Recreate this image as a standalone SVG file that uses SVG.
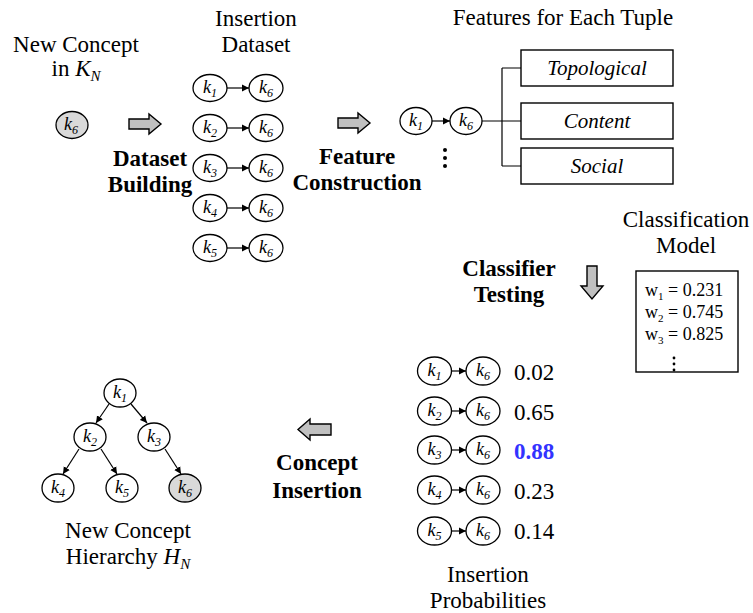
<svg xmlns="http://www.w3.org/2000/svg" width="753" height="613" viewBox="0 0 753 613">
  <defs>
    <style>
      text { font-family: 'Liberation Serif', serif; fill: #000; }
      .lbl { font-size: 23px; text-anchor: middle; }
      .bold { font-size: 23px; font-weight: bold; text-anchor: middle; }
      .feat { font-size: 21px; font-style: italic; text-anchor: middle; }
      .num { font-size: 23px; }
      .w { font-size: 18px; }
      .k { font-size: 18px; font-style: italic; text-anchor: middle; }
      .sub { font-size: 12px; }
      .node { fill: #fff; stroke: #000; stroke-width: 1.3; }
      .new { fill: #d9d9d9; stroke: #000; stroke-width: 1.3; }
      .edge { stroke: #000; stroke-width: 1.2; fill: none; }
      .big { fill: #c0c0c0; stroke: #000; stroke-width: 1.4; stroke-linejoin: miter; }
      .box { fill: #fff; stroke: #000; stroke-width: 1.4; }
    </style>
    <marker id="ah" markerWidth="8" markerHeight="8" refX="7" refY="4" orient="auto" markerUnits="userSpaceOnUse">
      <path d="M0,0.5 L7,4 L0,7.5 Z" fill="#000"/>
    </marker>
  </defs>

  <!-- titles and stage labels -->
  <text class="lbl" x="76" y="52">New Concept</text>
  <text class="lbl" x="76" y="76">in <tspan font-style="italic">K</tspan><tspan font-style="italic" font-size="15" dy="5">N</tspan></text>
  <text class="lbl" x="256" y="26">Insertion</text>
  <text class="lbl" x="256" y="52">Dataset</text>
  <text class="bold" x="150" y="166">Dataset</text>
  <text class="bold" x="150" y="192">Building</text>
  <text class="bold" x="357" y="164">Feature</text>
  <text class="bold" x="357" y="190">Construction</text>
  <text class="lbl" x="563" y="25" font-size="24">Features for Each Tuple</text>
  <text class="lbl" x="686" y="227">Classification</text>
  <text class="lbl" x="686" y="253">Model</text>
  <text class="bold" x="509" y="276">Classifier</text>
  <text class="bold" x="509" y="302">Testing</text>
  <text class="bold" x="317" y="470">Concept</text>
  <text class="bold" x="317" y="498">Insertion</text>
  <text class="lbl" x="488" y="582">Insertion</text>
  <text class="lbl" x="488" y="608">Probabilities</text>
  <text class="lbl" x="128" y="538">New Concept</text>
  <text class="lbl" x="128" y="564">Hierarchy <tspan font-style="italic">H</tspan><tspan font-style="italic" font-size="15" dy="5">N</tspan></text>

  <!-- block arrows between stages -->
  <g id="step-arrows">
    <path class="big" d="M129,119 H149 V114 L161,124 L149,134 V129 H129 Z"/>
    <path class="big" d="M338,118 H358 V113 L370,123 L358,133 V128 H338 Z"/>
    <path class="big" d="M587,266 H597 V286 H603 L592,299 L581,286 H587 Z"/>
    <path class="big" d="M331,424 H310 V419 L298,429.5 L310,440 V435 H331 Z"/>
  </g>

  <!-- new concept -->
  <g id="new-concept">
    <ellipse class="new" cx="72" cy="125" rx="16" ry="13.5"/>
    <text class="k" x="71" y="130">k<tspan class="sub" dy="4">6</tspan></text>
  </g>

  <!-- connectors -->
  <g id="connectors">
    <line class="edge" x1="227" y1="88" x2="249" y2="88" marker-end="url(#ah)"/>
    <line class="edge" x1="227" y1="128" x2="249" y2="128" marker-end="url(#ah)"/>
    <line class="edge" x1="227" y1="168" x2="249" y2="168" marker-end="url(#ah)"/>
    <line class="edge" x1="227" y1="208" x2="249" y2="208" marker-end="url(#ah)"/>
    <line class="edge" x1="227" y1="248" x2="249" y2="248" marker-end="url(#ah)"/>

    <line class="edge" x1="432" y1="121" x2="450" y2="121" marker-end="url(#ah)"/>
    <path class="edge" d="M482,121 H521 M502,68 V166 M502,68 H521 M502,166 H521"/>

    <line class="edge" x1="451" y1="371" x2="466" y2="371" marker-end="url(#ah)"/>
    <line class="edge" x1="451" y1="411" x2="466" y2="411" marker-end="url(#ah)"/>
    <line class="edge" x1="451" y1="450" x2="466" y2="450" marker-end="url(#ah)"/>
    <line class="edge" x1="451" y1="490" x2="466" y2="490" marker-end="url(#ah)"/>
    <line class="edge" x1="451" y1="531" x2="466" y2="531" marker-end="url(#ah)"/>

    <line class="edge" x1="109" y1="404" x2="96" y2="423" marker-end="url(#ah)"/>
    <line class="edge" x1="131" y1="404" x2="147" y2="423" marker-end="url(#ah)"/>
    <line class="edge" x1="79" y1="449" x2="63" y2="474" marker-end="url(#ah)"/>
    <line class="edge" x1="101" y1="449" x2="117" y2="474" marker-end="url(#ah)"/>
    <line class="edge" x1="165" y1="449" x2="181" y2="474" marker-end="url(#ah)"/>
  </g>

  <!-- insertion dataset -->
  <g id="dataset">
    <ellipse class="node" cx="210" cy="88" rx="17" ry="13.5"/><text class="k" x="210" y="93">k<tspan class="sub" dy="4">1</tspan></text>
    <ellipse class="node" cx="266" cy="88" rx="17" ry="13.5"/><text class="k" x="266" y="93">k<tspan class="sub" dy="4">6</tspan></text>
    <ellipse class="node" cx="210" cy="128" rx="17" ry="13.5"/><text class="k" x="210" y="133">k<tspan class="sub" dy="4">2</tspan></text>
    <ellipse class="node" cx="266" cy="128" rx="17" ry="13.5"/><text class="k" x="266" y="133">k<tspan class="sub" dy="4">6</tspan></text>
    <ellipse class="node" cx="210" cy="168" rx="17" ry="13.5"/><text class="k" x="210" y="173">k<tspan class="sub" dy="4">3</tspan></text>
    <ellipse class="node" cx="266" cy="168" rx="17" ry="13.5"/><text class="k" x="266" y="173">k<tspan class="sub" dy="4">6</tspan></text>
    <ellipse class="node" cx="210" cy="208" rx="17" ry="13.5"/><text class="k" x="210" y="213">k<tspan class="sub" dy="4">4</tspan></text>
    <ellipse class="node" cx="266" cy="208" rx="17" ry="13.5"/><text class="k" x="266" y="213">k<tspan class="sub" dy="4">6</tspan></text>
    <ellipse class="node" cx="210" cy="248" rx="17" ry="13.5"/><text class="k" x="210" y="253">k<tspan class="sub" dy="4">5</tspan></text>
    <ellipse class="node" cx="266" cy="248" rx="17" ry="13.5"/><text class="k" x="266" y="253">k<tspan class="sub" dy="4">6</tspan></text>
  </g>

  <!-- feature construction -->
  <g id="feature-tuple">
    <ellipse class="node" cx="416" cy="121" rx="16" ry="13.5"/><text class="k" x="416" y="126">k<tspan class="sub" dy="4">1</tspan></text>
    <ellipse class="node" cx="466" cy="121" rx="16" ry="13.5"/><text class="k" x="466" y="126">k<tspan class="sub" dy="4">6</tspan></text>
    <circle cx="445" cy="150" r="2"/>
    <circle cx="445" cy="158" r="2"/>
    <circle cx="445" cy="166" r="2"/>
  </g>
  <g id="feat-topological">
    <rect class="box" x="521" y="50" width="152" height="36"/>
    <text class="feat" x="597" y="75">Topological</text>
  </g>
  <g id="feat-content">
    <rect class="box" x="521" y="103" width="152" height="36"/>
    <text class="feat" x="597" y="128">Content</text>
  </g>
  <g id="feat-social">
    <rect class="box" x="521" y="148" width="152" height="36"/>
    <text class="feat" x="597" y="173">Social</text>
  </g>

  <!-- classification model -->
  <g id="model">
    <rect class="box" x="636" y="271" width="102" height="101"/>
    <text class="w" x="645" y="296">w<tspan font-size="11" dy="4">1</tspan><tspan dy="-4"> = 0.231</tspan></text>
    <text class="w" x="645" y="318">w<tspan font-size="11" dy="4">2</tspan><tspan dy="-4"> = 0.745</tspan></text>
    <text class="w" x="645" y="340">w<tspan font-size="11" dy="4">3</tspan><tspan dy="-4"> = 0.825</tspan></text>
    <circle cx="674" cy="358" r="1.4"/>
    <circle cx="674" cy="364" r="1.4"/>
    <circle cx="674" cy="370" r="1.4"/>
  </g>

  <!-- insertion probabilities -->
  <g id="probabilities">
    <ellipse class="node" cx="434.5" cy="371" rx="17" ry="14"/><text class="k" x="434.5" y="376">k<tspan class="sub" dy="4">1</tspan></text>
    <ellipse class="node" cx="483" cy="371" rx="17" ry="14"/><text class="k" x="483" y="376">k<tspan class="sub" dy="4">6</tspan></text>
    <text class="num" x="514" y="380">0.02</text>
    <ellipse class="node" cx="434.5" cy="411" rx="17" ry="14"/><text class="k" x="434.5" y="416">k<tspan class="sub" dy="4">2</tspan></text>
    <ellipse class="node" cx="483" cy="411" rx="17" ry="14"/><text class="k" x="483" y="416">k<tspan class="sub" dy="4">6</tspan></text>
    <text class="num" x="514" y="420">0.65</text>
    <ellipse class="node" cx="434.5" cy="450" rx="17" ry="14"/><text class="k" x="434.5" y="455">k<tspan class="sub" dy="4">3</tspan></text>
    <ellipse class="node" cx="483" cy="450" rx="17" ry="14"/><text class="k" x="483" y="455">k<tspan class="sub" dy="4">6</tspan></text>
    <text class="num" x="514" y="459" font-weight="bold" style="fill:#3333ff">0.88</text>
    <ellipse class="node" cx="434.5" cy="490" rx="17" ry="14"/><text class="k" x="434.5" y="495">k<tspan class="sub" dy="4">4</tspan></text>
    <ellipse class="node" cx="483" cy="490" rx="17" ry="14"/><text class="k" x="483" y="495">k<tspan class="sub" dy="4">6</tspan></text>
    <text class="num" x="514" y="499">0.23</text>
    <ellipse class="node" cx="434.5" cy="531" rx="17" ry="14"/><text class="k" x="434.5" y="536">k<tspan class="sub" dy="4">5</tspan></text>
    <ellipse class="node" cx="483" cy="531" rx="17" ry="14"/><text class="k" x="483" y="536">k<tspan class="sub" dy="4">6</tspan></text>
    <text class="num" x="514" y="539">0.14</text>
  </g>

  <!-- new concept hierarchy -->
  <g id="tree-k1"><ellipse class="node" cx="120" cy="393" rx="16" ry="14"/><text class="k" x="120" y="398">k<tspan class="sub" dy="4">1</tspan></text></g>
  <g id="tree-k2"><ellipse class="node" cx="90" cy="437" rx="16" ry="14"/><text class="k" x="90" y="442">k<tspan class="sub" dy="4">2</tspan></text></g>
  <g id="tree-k3"><ellipse class="node" cx="154" cy="437" rx="16" ry="14"/><text class="k" x="154" y="442">k<tspan class="sub" dy="4">3</tspan></text></g>
  <g id="tree-k4"><ellipse class="node" cx="58" cy="488" rx="16" ry="14"/><text class="k" x="58" y="493">k<tspan class="sub" dy="4">4</tspan></text></g>
  <g id="tree-k5"><ellipse class="node" cx="122" cy="488" rx="16" ry="14"/><text class="k" x="122" y="493">k<tspan class="sub" dy="4">5</tspan></text></g>
  <g id="tree-k6"><ellipse class="new" cx="185" cy="488" rx="16" ry="14"/><text class="k" x="185" y="493">k<tspan class="sub" dy="4">6</tspan></text></g>
</svg>
